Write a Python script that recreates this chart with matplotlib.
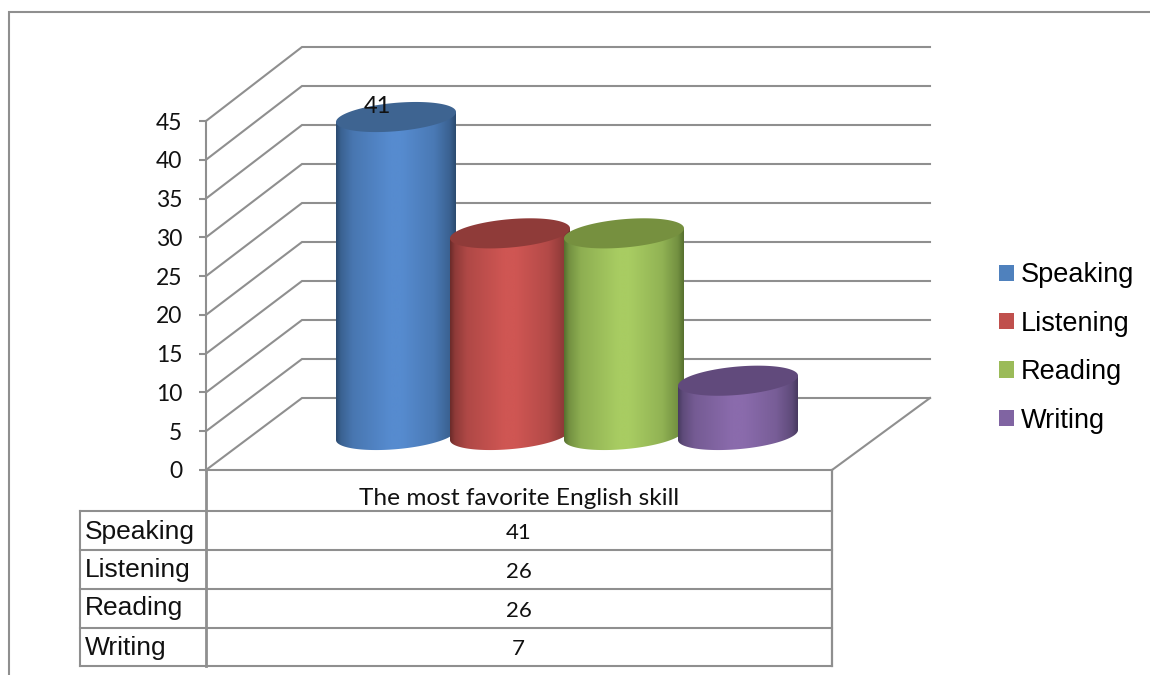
import numpy as np
import matplotlib
matplotlib.use("Agg")
import matplotlib.pyplot as plt
from matplotlib.patches import Patch, Polygon
from matplotlib.colors import to_rgb

# Chart content
skills = ["Speaking", "Listening", "Reading", "Writing"]
votes = [41, 26, 26, 7]
labelled_votes = [41, None, None, None]
axis_ticks = list(range(0, 50, 5))
category_title = "The most favorite English skill"

# Series colours: legend swatch, cap shade, brightest side shade, edge shade
swatch = ["#4f81bd", "#c0504d", "#9bbb59", "#8064a2"]
cap = ["#3e6491", "#8f3b39", "#76903f", "#614a7c"]
bright = ["#568bcf", "#cf5653", "#a8cc62", "#8a6bac"]
edge = ["#2b4b70", "#6b2b2a", "#56702f", "#483a60"]

LINE = "#8f8f8f"
W, H = 1150, 675
PLOT_L, PLOT_R, PLOT_B, PLOT_T = 206, 832, 470, 121
BAR_PITCH = 114.0           # pixels between cylinder centres
PX_PER_UNIT = (PLOT_B - PLOT_T) / 45.0
DEPTH_X, DEPTH_Y = 96.0, 72.0
BACK_SCALE = 351.0 / 349.0  # back wall reads slightly taller than the front edge
FLOOR_LIFT = 35.0           # cylinder base sits mid-way into the floor
RADIUS_X, SHEAR_Y, RADIUS_Y = 60.0, 5.0, 14.2

LATO = ["Lato", "DejaVu Sans"]
ARIAL = ["Liberation Sans", "DejaVu Sans"]
TEXT = "#111111"

fig = plt.figure(figsize=(W / 100, H / 100), dpi=100, facecolor="white")

# Page-level layer: outer frame and the data table, in figure pixels
page = fig.add_axes([0, 0, 1, 1], zorder=0)
page.set_xlim(0, W)
page.set_ylim(H, 0)
page.axis("off")

page.plot([8.5, 8.5, W], [H, 12, 12], color=LINE, lw=1.5, solid_joinstyle="miter")
rows_y = [511, 550, 589, 628, 666]
for y in rows_y:
    page.plot([80, PLOT_R], [y, y], color=LINE, lw=1.5)
page.plot([80, 80], [511, 666], color=LINE, lw=1.5)
page.plot([205.5, 205.5], [PLOT_B, 666], color=LINE, lw=2)
page.plot([PLOT_R - 0.5, PLOT_R - 0.5], [PLOT_B, 666], color=LINE, lw=1.6)

name_y = [531.5, 569.5, 608.5, 647.5]
value_y = [533, 572, 611, 649]
for name, v, ny, vy in zip(skills, votes, name_y, value_y):
    page.text(85, ny, name, family=ARIAL, fontsize=19, va="center", ha="left", color=TEXT)
    page.text(518.5, vy, str(v), family=LATO, fontsize=16, va="center", ha="center", color=TEXT)

# Value axes on the front plane of the 3-D box
ax = fig.add_axes([PLOT_L / W, (H - PLOT_B) / H, (PLOT_R - PLOT_L) / W, (PLOT_B - PLOT_T) / H], zorder=1)
half_span = (PLOT_R - PLOT_L) / 2 / BAR_PITCH
ax.set_xlim(-half_span, half_span)
ax.set_ylim(0, 45)
ax.patch.set_visible(False)
for side in ("top", "right"):
    ax.spines[side].set_visible(False)
for side in ("left", "bottom"):
    ax.spines[side].set_color(LINE)
    ax.spines[side].set_linewidth(1.5)
ax.set_yticks(axis_ticks)
ax.set_yticklabels([str(t) for t in axis_ticks], family=LATO, fontsize=16.5, color=TEXT)
ax.tick_params(axis="y", length=5, width=1.5, color=LINE, pad=12)
ax.set_xticks([0])
ax.set_xticklabels([category_title], family=LATO, fontsize=17.6, color=TEXT)
ax.tick_params(axis="x", length=0, pad=13)

dx = DEPTH_X / BAR_PITCH
dy = DEPTH_Y / PX_PER_UNIT
x_left, x_right = ax.get_xlim()
x_back_right = x_right + 98 / BAR_PITCH

# Receding gridlines and the floor of the box
for t in axis_ticks:
    back = t * BACK_SCALE + dy
    ax.plot([x_left, x_left + dx, x_back_right], [t, back, back],
            color=LINE, lw=1.5, clip_on=False, zorder=1, solid_joinstyle="miter")
ax.plot([x_right, x_back_right], [0, dy], color=LINE, lw=1.5, clip_on=False, zorder=1)


def shade_ramp(col_edge, col_bright):
    """Horizontal lighting across a cylinder: dark rims, bright middle."""
    stops = [0.0, 0.04, 0.14, 0.45, 0.55, 0.82, 0.95, 1.0]
    mix = [0.0, 0.35, 0.68, 1.0, 1.0, 0.72, 0.35, 0.0]
    u = np.linspace(0, 1, 256)
    m = np.interp(u, stops, mix)[None, :, None]
    return np.array(to_rgb(col_edge))[None, None, :] * (1 - m) + np.array(to_rgb(col_bright))[None, None, :] * m


t = np.linspace(0, 2 * np.pi, 241)
rx = RADIUS_X / BAR_PITCH
ry_shear = SHEAR_Y / PX_PER_UNIT
ry = RADIUS_Y / PX_PER_UNIT
lift = FLOOR_LIFT / PX_PER_UNIT
centre_shift = 0.5 * dx

for i, v in enumerate(votes):
    cx = i - (len(votes) - 1) / 2 + centre_shift
    ring_x = cx + rx * np.cos(t)
    ring_y = ry_shear * np.cos(t) + ry * np.sin(t)

    # Side wall outline: the lower half of the base ring closed at cap level
    lower = t >= np.pi
    side_x = np.r_[ring_x[lower], cx + rx, cx - rx]
    side_y = np.r_[ring_y[lower] + lift, ry_shear + lift + v, -ry_shear + lift + v]
    side = Polygon(np.c_[side_x, side_y], closed=True, transform=ax.transData,
                   facecolor="none", edgecolor="none")
    ax.add_patch(side)
    side.set_clip_on(False)
    img = ax.imshow(shade_ramp(edge[i], bright[i]),
                    extent=[cx - rx, cx + rx, 0, v + lift + 5],
                    aspect="auto", zorder=3 + i, interpolation="bilinear")
    img.set_clip_box(fig.bbox)
    img.set_clip_path(side)

    ax.fill(ring_x, ring_y + lift + v, color=cap[i], lw=0, zorder=3 + i + 0.5, clip_on=False)

    if labelled_votes[i] is not None:
        ax.text(cx - 19 / BAR_PITCH, v + lift + 11 / PX_PER_UNIT, str(labelled_votes[i]),
                family=LATO, fontsize=17, ha="center", va="center", color=TEXT,
                zorder=10, clip_on=False)

ax.set_xlim(x_left, x_right)
ax.set_ylim(0, 45)

# Legend to the right of the box
handles = [Patch(facecolor=c, edgecolor="none", label=s) for c, s in zip(swatch, skills)]
fig.legend(handles=handles, loc="center left", bbox_to_anchor=(999 / W, 1 - 348 / H),
           frameon=False, prop={"family": ARIAL, "size": 19.5}, handlelength=0.555,
           handleheight=0.555, handletextpad=0.26, labelspacing=0.83, borderpad=0, borderaxespad=0)

fig.savefig("out.png", dpi=100, facecolor="white")
